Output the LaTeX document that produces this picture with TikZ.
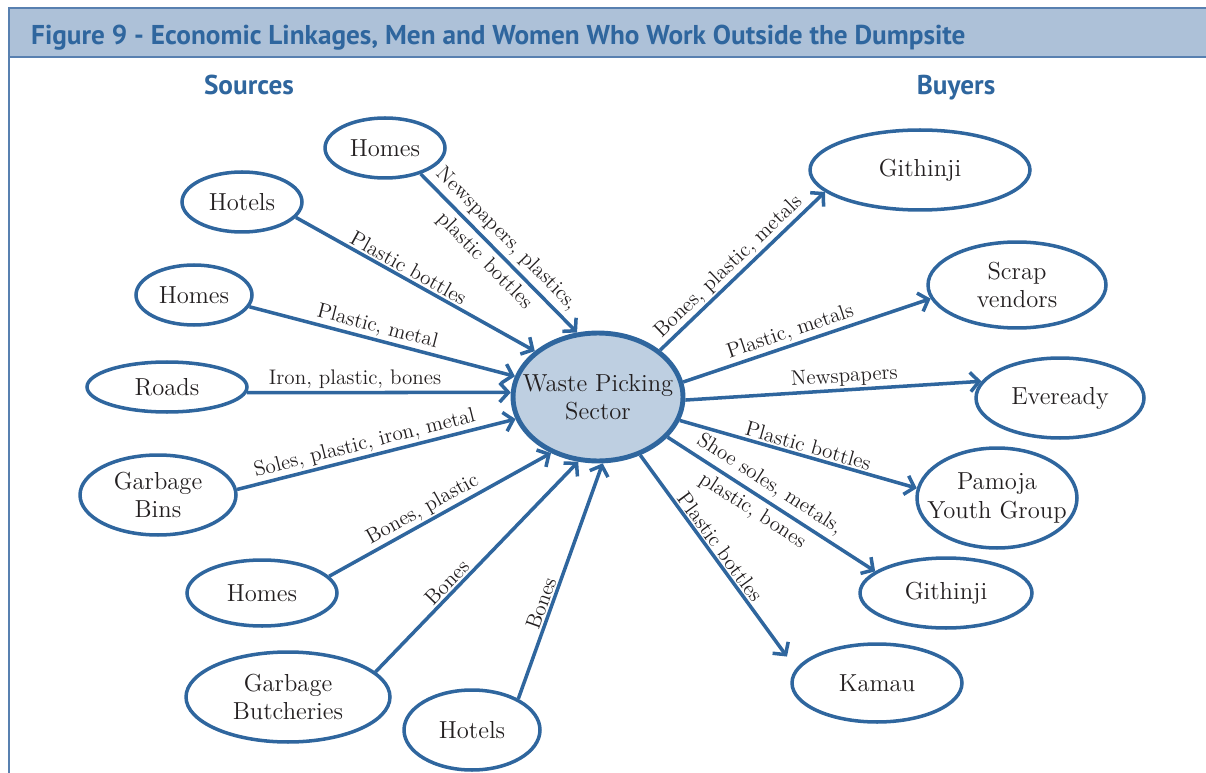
\documentclass[tikz,border=0pt]{standalone}
\usepackage{fontspec}
\newfontfamily\headfont{PT Sans}
\usetikzlibrary{arrows.meta,shapes.geometric}
\definecolor{linkblue}{RGB}{47,102,158}
\definecolor{frameblue}{RGB}{88,128,176}
\definecolor{barfill}{RGB}{173,193,216}
\definecolor{hubfill}{RGB}{190,207,225}
\definecolor{textgrey}{RGB}{35,31,32}
\tikzset{
  party/.style={ellipse, draw=linkblue, line width=2pt, inner xsep=-2cm, inner ysep=0pt,
    text=textgrey, align=center, font=\fontsize{14}{16}\selectfont},
  hub/.style={party, fill=hubfill, line width=2.8pt},
  link/.style={draw=linkblue, line width=2pt, -{Straight Barb[length=5pt,width=11pt]}},
  what/.style={sloped, font=\fontsize{12}{13.5}\selectfont, text=textgrey, inner sep=1pt, align=center},
  whatpair/.style={what, font=\fontsize{12}{18}\selectfont},
  heading/.style={font=\headfont\bfseries\fontsize{15.5}{17}\selectfont, text=linkblue}
}
\newcommand{\party}[5]{\node[party, minimum width=#4cm, minimum height=#5cm] (#1) at (#2) {#3};}
\begin{document}
\begin{tikzpicture}[x=0.02cm, y=-0.02cm]
\useasboundingbox (0,0) rectangle (1206,773);
\fill[barfill] (9,8) rectangle (1215,57);
\draw[frameblue, line width=1pt] (1215,8) -- (9,8) -- (9,780);
\draw[frameblue, line width=1.2pt] (9,57) -- (1215,57);
\node[heading, anchor=base west] (title) at (25,45) {Figure 9 - Economic Linkages, Men and Women Who Work Outside the Dumpsite};
\node[heading, anchor=base] (sources) at (249,95) {Sources};
\node[heading, anchor=base] (buyers) at (956,95) {Buyers};

\node[hub, minimum width=3.4cm, minimum height=2.56cm] (hub) at (598,397) {Waste Picking\\Sector};
\party{homesA}{385,148}{Homes}{2.4}{1.2}
\party{hotelsA}{242,202}{Hotels}{2.4}{1.2}
\party{homesB}{194,295}{Homes}{2.32}{1.2}
\party{roads}{167,387}{Roads}{3.2}{1.0}
\party{bins}{158,495}{Garbage\\Bins}{3.12}{1.6}
\party{homesC}{262,593}{Homes}{3.0}{1.32}
\party{butch}{288,697}{Garbage\\Butcheries}{4.08}{1.8}
\party{hotelsB}{472,730}{Hotels}{2.72}{1.6}
\party{githA}{920,170}{Githinji}{4.4}{1.6}
\party{scrap}{1017,285}{Scrap\\vendors}{3.56}{1.72}
\party{evr}{1060,398}{Eveready}{3.36}{1.6}
\party{pamoja}{997,498}{Pamoja\\Youth Group}{3.2}{2.0}
\party{githB}{946,593}{Githinji}{3.44}{1.4}
\party{kamau}{877,683}{Kamau}{3.4}{1.56}

\draw[link] (homesA.-36) -- (hub.108) node[pos=.48, whatpair] {Newspapers, plastics,\\plastic bottles};
\draw[link] (hotelsA.-16) -- (hub.144.5) node[pos=.45, what, above] {Plastic bottles};
\draw[link] (homesB.-12) -- (hub.166) node[pos=.47, what, above] {Plastic, metal};
\draw[link] (roads.-4) -- (hub.177) node[pos=.41, what, above] {Iron, plastic, bones};
\draw[link] (bins.4) -- (hub.195) node[pos=.47, what, above] {Soles, plastic, iron, metal};
\draw[link] (homesC.14) -- (hub.230) node[pos=.45, what, above] {Bones, plastic};
\draw[link] (butch.16) -- (hub.253) node[pos=.39, what, above] {Bones};
\draw[link] (hotelsB.34) -- (hub.274) node[pos=.39, what, above] {Bones};

\draw[link] (hub.37) -- (githA.193) node[pos=.47, what, above] {Bones, plastic, metals};
\draw[link] (hub.10) -- (scrap.189) node[pos=.45, what, above] {Plastic, metals};
\draw[link] (hub.-2) -- (evr.168) node[pos=.54, what, above] {Newspapers};
\draw[link] (hub.-16) -- (pamoja.173) node[pos=.53, what, above] {Plastic bottles};
\draw[link] (hub.-30) -- (githB.163) node[pos=.45, whatpair] {Shoe soles, metals,\\plastic, bones};
\draw[link, shorten >=0.3cm] (hub.-54) -- (kamau.170) node[pos=.46, what, above] {Plastic bottles};
\end{tikzpicture}
\end{document}
